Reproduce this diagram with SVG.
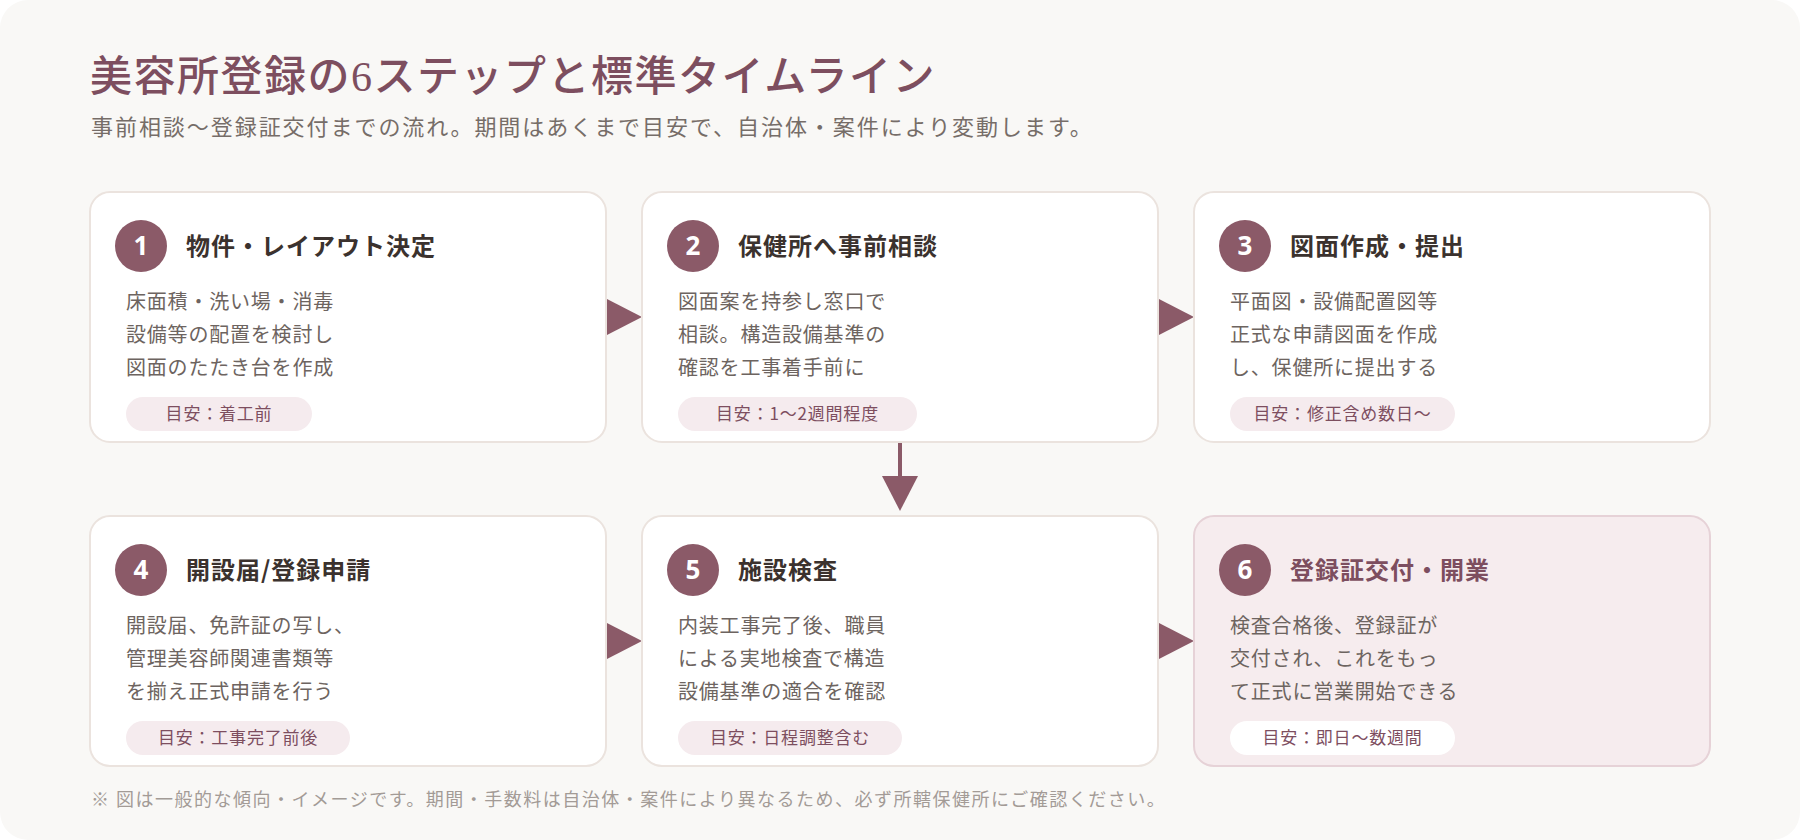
<svg xmlns="http://www.w3.org/2000/svg" width="1800" height="840" viewBox="0 0 1800 840">
<defs>
<style>
.bg{fill:#f9f8f6}
.card{fill:#ffffff;stroke:#ebe3de;stroke-width:2}
.card.hl{fill:#f6ecee;stroke:#e6d2d7}
.num{fill:#8b5a68}
.numt{font-family:"Noto Sans","Noto Sans CJK JP",sans-serif;font-size:26px;font-weight:700;fill:#ffffff;text-anchor:middle}
.ttl{font-family:"Noto Sans CJK JP",sans-serif;font-size:24px;font-weight:700;fill:#3b322e;letter-spacing:1px}
.ttl.hl{fill:#7d4e5f}
.body{font-family:"Noto Sans CJK JP",sans-serif;font-size:20px;fill:#6d6460;letter-spacing:0.8px}
.pill{fill:#f5ebee}
.pill.hl{fill:#ffffff}
.pillt{font-family:"Noto Sans CJK JP",sans-serif;font-size:17px;fill:#7d4e5f;text-anchor:middle;letter-spacing:0.8px}
.conn{stroke:#8b5a68;stroke-width:4;fill:none}
.head{fill:#8b5a68}
</style>
<marker id="arr" markerUnits="userSpaceOnUse" markerWidth="36" markerHeight="36" refX="0" refY="18" orient="auto" viewBox="0 0 36 36">
<path class="head" d="M0,0 L35,18 L0,36 Z"/>
</marker>
</defs>
<rect width="1800" height="840" fill="#ffffff"/>
<rect class="bg" x="0" y="0" width="1800" height="840" rx="28"/>
<text x="90" y="91" font-family="'Liberation Serif','Noto Sans CJK JP',serif" font-size="42" font-weight="500" fill="#7d4e5f" letter-spacing="1.5">美容所登録の6ステップと標準タイムライン</text>
<text x="91" y="135" font-family="'Noto Sans CJK JP',sans-serif" font-size="22" fill="#766d68" letter-spacing="1.95">事前相談〜登録証交付までの流れ。期間はあくまで目安で、自治体・案件により変動します。</text>

<g id="connectors">
<line class="conn" x1="603" y1="317" x2="607" y2="317" marker-end="url(#arr)"/>
<line class="conn" x1="1155" y1="317" x2="1159" y2="317" marker-end="url(#arr)"/>
<line class="conn" x1="900" y1="442" x2="900" y2="476" marker-end="url(#arr)"/>
<line class="conn" x1="603" y1="641" x2="607" y2="641" marker-end="url(#arr)"/>
<line class="conn" x1="1155" y1="641" x2="1159" y2="641" marker-end="url(#arr)"/>
</g>

<g id="step1">
<rect class="card" x="90" y="192" width="516" height="250" rx="20"/>
<circle class="num" cx="141" cy="246" r="26"/>
<text class="numt" x="141" y="255">1</text>
<text class="ttl" x="186" y="255">物件・レイアウト決定</text>
<text class="body" x="126" y="309">床面積・洗い場・消毒</text>
<text class="body" x="126" y="342">設備等の配置を検討し</text>
<text class="body" x="126" y="375">図面のたたき台を作成</text>
<rect class="pill" x="126" y="397" width="186" height="34" rx="17"/>
<text class="pillt" x="219" y="420">目安：着工前</text>
</g>

<g id="step2">
<rect class="card" x="642" y="192" width="516" height="250" rx="20"/>
<circle class="num" cx="693" cy="246" r="26"/>
<text class="numt" x="693" y="255">2</text>
<text class="ttl" x="738" y="255">保健所へ事前相談</text>
<text class="body" x="678" y="309">図面案を持参し窓口で</text>
<text class="body" x="678" y="342">相談。構造設備基準の</text>
<text class="body" x="678" y="375">確認を工事着手前に</text>
<rect class="pill" x="678" y="397" width="239" height="34" rx="17"/>
<text class="pillt" x="797.5" y="420">目安：1〜2週間程度</text>
</g>

<g id="step3">
<rect class="card" x="1194" y="192" width="516" height="250" rx="20"/>
<circle class="num" cx="1245" cy="246" r="26"/>
<text class="numt" x="1245" y="255">3</text>
<text class="ttl" x="1290" y="255">図面作成・提出</text>
<text class="body" x="1230" y="309">平面図・設備配置図等</text>
<text class="body" x="1230" y="342">正式な申請図面を作成</text>
<text class="body" x="1230" y="375">し、保健所に提出する</text>
<rect class="pill" x="1230" y="397" width="225" height="34" rx="17"/>
<text class="pillt" x="1342.5" y="420">目安：修正含め数日〜</text>
</g>

<g id="step4">
<rect class="card" x="90" y="516" width="516" height="250" rx="20"/>
<circle class="num" cx="141" cy="570" r="26"/>
<text class="numt" x="141" y="579">4</text>
<text class="ttl" x="186" y="579">開設届/登録申請</text>
<text class="body" x="126" y="633">開設届、免許証の写し、</text>
<text class="body" x="126" y="666">管理美容師関連書類等</text>
<text class="body" x="126" y="699">を揃え正式申請を行う</text>
<rect class="pill" x="126" y="721" width="224" height="34" rx="17"/>
<text class="pillt" x="238" y="744">目安：工事完了前後</text>
</g>

<g id="step5">
<rect class="card" x="642" y="516" width="516" height="250" rx="20"/>
<circle class="num" cx="693" cy="570" r="26"/>
<text class="numt" x="693" y="579">5</text>
<text class="ttl" x="738" y="579">施設検査</text>
<text class="body" x="678" y="633">内装工事完了後、職員</text>
<text class="body" x="678" y="666">による実地検査で構造</text>
<text class="body" x="678" y="699">設備基準の適合を確認</text>
<rect class="pill" x="678" y="721" width="224" height="34" rx="17"/>
<text class="pillt" x="790" y="744">目安：日程調整含む</text>
</g>

<g id="step6">
<rect class="card hl" x="1194" y="516" width="516" height="250" rx="20"/>
<circle class="num" cx="1245" cy="570" r="26"/>
<text class="numt" x="1245" y="579">6</text>
<text class="ttl hl" x="1290" y="579">登録証交付・開業</text>
<text class="body" x="1230" y="633">検査合格後、登録証が</text>
<text class="body" x="1230" y="666">交付され、これをもっ</text>
<text class="body" x="1230" y="699">て正式に営業開始できる</text>
<rect class="pill hl" x="1230" y="721" width="225" height="34" rx="17"/>
<text class="pillt" x="1342.5" y="744">目安：即日〜数週間</text>
</g>

<text x="91" y="806" font-family="'Noto Sans CJK JP',sans-serif" font-size="18" fill="#a39b96" letter-spacing="1.5">※ 図は一般的な傾向・イメージです。期間・手数料は自治体・案件により異なるため、必ず所轄保健所にご確認ください。</text>
</svg>
